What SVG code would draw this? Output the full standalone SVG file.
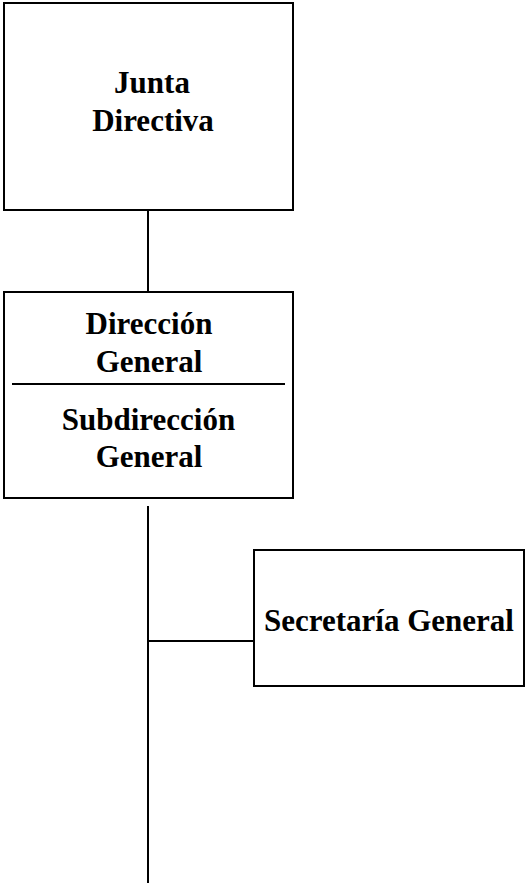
<svg xmlns="http://www.w3.org/2000/svg" width="526" height="884" viewBox="0 0 526 884">
<style>
.box{fill:#fff;stroke:#000;stroke-width:2}
.ln{stroke:#000;stroke-width:2;fill:none}
text{font-family:"Liberation Serif","Times New Roman",serif;font-weight:bold;font-size:31px;text-anchor:middle;fill:#000}
</style>
<rect width="526" height="884" fill="#fff"/>
<g id="connectors">
<line class="ln" x1="148" y1="211" x2="148" y2="292"/>
<line class="ln" x1="148" y1="506" x2="148" y2="883"/>
<line class="ln" x1="148" y1="641" x2="254" y2="641"/>
</g>
<g id="junta">
<rect class="box" x="4" y="3" width="289" height="207"/>
<text x="152" y="93">Junta</text>
<text x="153" y="131">Directiva</text>
</g>
<g id="direccion">
<rect class="box" x="4" y="292" width="289" height="206"/>
<line class="ln" x1="12" y1="384" x2="285" y2="384"/>
<text x="149" y="334">Dirección</text>
<text x="149" y="372">General</text>
<text x="148.5" y="430">Subdirección</text>
<text x="149" y="467">General</text>
</g>
<g id="secretaria">
<rect class="box" x="254" y="550" width="270" height="136"/>
<text x="389" y="631">Secretaría General</text>
</g>
</svg>
